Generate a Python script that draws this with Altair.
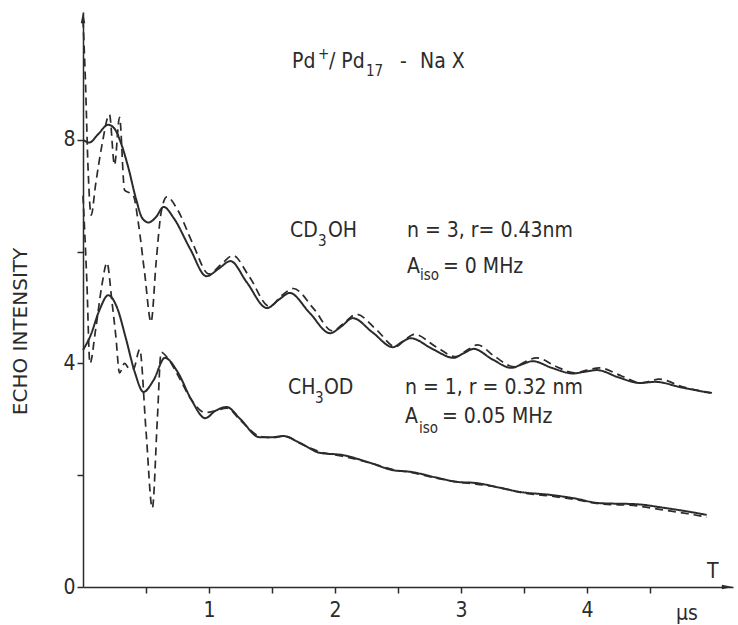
import altair as alt
import pandas as pd

# ---------------- data ----------------
# CD3OH, experiment (solid)
cd3oh_exp_t = [0, 0.05, 0.12, 0.2, 0.25, 0.3, 0.36, 0.42, 0.47, 0.52, 0.58, 0.64,
               0.72, 0.85, 0.98, 1.08, 1.17, 1.3, 1.46, 1.56, 1.64, 1.8, 1.96, 2.05,
               2.14, 2.3, 2.46, 2.53, 2.6, 2.78, 2.94, 3.02, 3.1, 3.25, 3.4, 3.48,
               3.57, 3.72, 3.89, 3.98, 4.08, 4.25, 4.42, 4.48, 4.54, 4.75, 4.98]
cd3oh_exp_v = [8.0, 7.95, 8.1, 8.27, 8.2, 7.95, 7.5, 6.95, 6.6, 6.52, 6.62, 6.8,
               6.6, 6.05, 5.56, 5.7, 5.83, 5.45, 4.99, 5.15, 5.26, 4.9, 4.54, 4.66,
               4.81, 4.55, 4.29, 4.38, 4.45, 4.25, 4.1, 4.18, 4.26, 4.07, 3.92, 3.98,
               4.04, 3.92, 3.82, 3.85, 3.88, 3.75, 3.65, 3.66, 3.67, 3.57, 3.47]

# CD3OH, simulation (dashed)
cd3oh_sim_t = [0, 0.02, 0.04, 0.065, 0.1, 0.15, 0.21, 0.25, 0.29, 0.33, 0.37, 0.4,
               0.44, 0.49, 0.54, 0.58, 0.62, 0.665, 0.75, 0.87, 1.0, 1.1, 1.19, 1.32,
               1.48, 1.58, 1.67, 1.83, 1.98, 2.08, 2.17, 2.33, 2.48, 2.56, 2.63, 2.8,
               2.96, 3.05, 3.13, 3.27, 3.42, 3.51, 3.6, 3.75, 3.9, 4.0, 4.1, 4.27,
               4.43, 4.5, 4.57, 4.76, 5.0]
cd3oh_sim_v = [10.15, 9.0, 7.5, 6.65, 7.2, 7.9, 8.45, 7.55, 8.4, 7.1, 7.05, 7.0,
               6.5, 5.6, 4.74, 5.8, 6.7, 6.98, 6.75, 6.15, 5.6, 5.78, 5.93, 5.55,
               5.02, 5.22, 5.34, 4.98, 4.58, 4.74, 4.88, 4.6, 4.3, 4.43, 4.52, 4.3,
               4.12, 4.24, 4.33, 4.12, 3.94, 4.03, 4.1, 3.95, 3.83, 3.88, 3.92, 3.78,
               3.65, 3.68, 3.72, 3.58, 3.47]

# CH3OD, experiment (solid)
ch3od_exp_t = [0, 0.06, 0.13, 0.2, 0.27, 0.34, 0.41, 0.48, 0.56, 0.65, 0.75, 0.86,
               0.97, 1.05, 1.14, 1.25, 1.4, 1.5, 1.59, 1.72, 1.88, 2.06, 2.28, 2.46,
               2.6, 2.8, 2.97, 3.12, 3.3, 3.47, 3.7, 3.89, 4.1, 4.4, 4.6, 4.8, 4.95]
ch3od_exp_v = [4.24, 4.5, 4.95, 5.22, 5.0, 4.45, 3.85, 3.49, 3.7, 4.1, 3.85, 3.35,
               3.02, 3.15, 3.22, 3.0, 2.68, 2.68, 2.7, 2.58, 2.4, 2.36, 2.22, 2.09,
               2.06, 1.96, 1.88, 1.86, 1.78, 1.7, 1.65, 1.59, 1.5, 1.48, 1.42, 1.35, 1.29]

# CH3OD, simulation (dashed)
ch3od_sim_t = [0, 0.03, 0.055, 0.1, 0.15, 0.19, 0.23, 0.26, 0.29, 0.33, 0.37, 0.4,
               0.45, 0.5, 0.55, 0.59, 0.62, 0.67, 0.75, 0.86, 0.97, 1.05, 1.14, 1.25,
               1.4, 1.5, 1.6, 1.72, 1.88, 2.06, 2.28, 2.46, 2.6, 2.8, 2.97, 3.12, 3.3,
               3.47, 3.7, 3.89, 4.1, 4.4, 4.6, 4.8, 4.95]
ch3od_sim_v = [7.0, 5.5, 4.0, 4.6, 5.4, 5.8, 5.1, 4.5, 3.83, 4.0, 3.9, 3.9,
               4.25, 2.8, 1.41, 3.0, 4.2, 4.1, 3.8, 3.35, 3.12, 3.15, 3.2, 2.98,
               2.7, 2.67, 2.7, 2.57, 2.42, 2.34, 2.22, 2.1, 2.05, 1.95, 1.88, 1.84, 1.78,
               1.69, 1.63, 1.57, 1.49, 1.45, 1.38, 1.31, 1.25]

x_tick_values = [0.5, 1, 1.5, 2, 2.5, 3, 3.5, 4, 4.5]
y_tick_values = [0, 2, 4, 6, 8]

# ---------------- layout ----------------
PAD_L, PAD_T, PAD_R, PAD_B = 83, 12, 5, 38
W, H = 738 - PAD_L - PAD_R, 625 - PAD_T - PAD_B
PX_PER_T, PX_PER_V = 126.0, 55.9
XMAX, YMAX = W / PX_PER_T, H / PX_PER_V

FONT = "DejaVu Sans Condensed, DejaVu Sans"
INK = "#2b2b2b"


def px2t(px):
    return (px - PAD_L) / PX_PER_T


def py2v(py):
    return (587 - py) / PX_PER_V


xscale = alt.Scale(domain=[0, XMAX], nice=False, zero=False)
yscale = alt.Scale(domain=[0, YMAX], nice=False, zero=False)

xaxis = alt.Axis(values=x_tick_values, grid=False, tickSize=6, tickColor=INK,
                 domainColor=INK, domainWidth=1.5, tickWidth=1.5,
                 labelExpr="datum.value % 1 == 0 ? format(datum.value, 'd') : ''",
                 labelFont=FONT, labelFontSize=21, labelColor=INK, labelPadding=6,
                 title=None)
yaxis = alt.Axis(values=y_tick_values, grid=False, tickSize=6, tickColor=INK,
                 domainColor=INK, domainWidth=1.5, tickWidth=1.5,
                 labelExpr="datum.value % 4 == 0 ? format(datum.value, 'd') : ''",
                 labelFont=FONT, labelFontSize=21, labelColor=INK, labelPadding=2,
                 title="ECHO INTENSITY", titleFont="DejaVu Sans", titleFontSize=20,
                 titleFontWeight="normal", titleColor=INK, titleAngle=270,
                 titleX=-63, titleY=319, titleAlign="center", titleBaseline="middle")


def line_layer(ts, vs, dashed):
    df = pd.DataFrame({"t": ts, "v": vs})
    mk = alt.Chart(df).mark_line(
        color=INK,
        strokeWidth=1.7 if dashed else 2.0,
        strokeDash=[8, 5] if dashed else [1, 0],
        interpolate="monotone",
        clip=False,
    )
    return mk.encode(
        x=alt.X("t:Q", scale=xscale, axis=xaxis),
        y=alt.Y("v:Q", scale=yscale, axis=yaxis),
    )


layers = [
    line_layer(cd3oh_exp_t, cd3oh_exp_v, False),
    line_layer(cd3oh_sim_t, cd3oh_sim_v, True),
    line_layer(ch3od_exp_t, ch3od_exp_v, False),
    line_layer(ch3od_sim_t, ch3od_sim_v, True),
]

# arrow heads at the ends of both axes
arrow_up = pd.DataFrame({"t": [0.0], "v": [YMAX - 7 / PX_PER_V]})
arrow_right = pd.DataFrame({"t": [XMAX - 7 / PX_PER_T], "v": [0.0]})
layers.append(
    alt.Chart(arrow_up).mark_point(shape="M0,-1L0.32,0.6L-0.32,0.6Z", size=196,
                                   filled=True, color=INK, opacity=1, clip=False)
    .encode(x=alt.X("t:Q", scale=xscale, axis=xaxis), y=alt.Y("v:Q", scale=yscale, axis=yaxis))
)
layers.append(
    alt.Chart(arrow_right).mark_point(shape="M1,0L-0.6,-0.32L-0.6,0.32Z", size=196,
                                      filled=True, color=INK, opacity=1, clip=False)
    .encode(x=alt.X("t:Q", scale=xscale, axis=xaxis), y=alt.Y("v:Q", scale=yscale, axis=yaxis))
)

# ---------------- annotation texts ----------------
# (text, left px, baseline px, font size)
annotations = [
    ("Pd", 292, 68, 21), ("+", 318, 59, 15), ("/ Pd", 329, 68, 21),
    ("17", 366, 76, 15), ("-", 400, 68, 21), ("Na X", 420, 68, 21),
    ("CD", 290, 237, 21), ("3", 318, 246, 15), ("OH", 328, 237, 21),
    ("n = 3,  r= 0.43nm", 407, 237, 21),
    ("A", 407, 273, 21), ("iso", 420, 280, 15), ("= 0  MHz", 443, 273, 21),
    ("CH", 288, 394, 21), ("3", 315, 403, 15), ("OD", 324, 394, 21),
    ("n = 1,  r = 0.32  nm", 405, 394, 21),
    ("A", 405, 423, 21), ("iso", 419, 433, 15), ("= 0.05 MHz", 442, 423, 21),
    ("T", 707, 578, 21), ("μs", 676, 620, 21),
]
ann_df = pd.DataFrame({
    "label": [a[0] for a in annotations],
    "t": [px2t(a[1]) for a in annotations],
    "v": [py2v(a[2]) for a in annotations],
    "fs": [a[3] for a in annotations],
})
layers.append(
    alt.Chart(ann_df).mark_text(align="left", baseline="alphabetic", font=FONT,
                                color=INK, clip=False)
    .encode(x=alt.X("t:Q", scale=xscale, axis=xaxis),
            y=alt.Y("v:Q", scale=yscale, axis=yaxis),
            text="label:N",
            size=alt.Size("fs:Q", scale=None, legend=None))
)

chart = (
    alt.layer(*layers)
    .properties(width=W, height=H, autosize=alt.AutoSizeParams(type="none"),
                padding={"left": PAD_L, "top": PAD_T, "right": PAD_R, "bottom": PAD_B},
                background="white")
    .configure_view(stroke=None)
)

chart.save("out.html", embed_options={"renderer": "svg", "actions": False})
